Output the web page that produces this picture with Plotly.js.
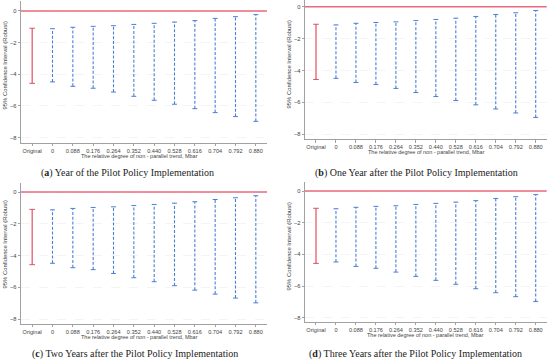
<!DOCTYPE html>
<html>
<head>
<meta charset="utf-8">
<script src="https://cdn.plot.ly/plotly-3.0.1.min.js"></script>
<style>html,body{margin:0;padding:0;background:#fff;}#chart{width:550px;height:363px;}</style>
</head>
<body>
<div id="chart"></div>
<script>
// ---- data ----
const categories = ['Original','0','0.088','0.176','0.264','0.352','0.440','0.528','0.616','0.704','0.792','0.880'];
const upperA = [-1.09,-1.12,-1.03,-0.97,-0.93,-0.85,-0.78,-0.70,-0.61,-0.47,-0.36,-0.23];
const lowerA = [-4.57,-4.48,-4.76,-4.88,-5.12,-5.39,-5.64,-5.89,-6.17,-6.42,-6.67,-6.97];
const upperB = [-1.10,-1.14,-1.04,-0.99,-0.95,-0.87,-0.80,-0.72,-0.61,-0.49,-0.38,-0.24];
const lowerB = [-4.56,-4.49,-4.75,-4.87,-5.12,-5.38,-5.63,-5.88,-6.15,-6.41,-6.66,-6.94];
const upperC = [-1.09,-1.12,-1.03,-0.97,-0.93,-0.85,-0.78,-0.70,-0.61,-0.47,-0.36,-0.23];
const lowerC = [-4.57,-4.48,-4.76,-4.88,-5.12,-5.39,-5.64,-5.89,-6.17,-6.42,-6.67,-6.97];
const upperD = [-1.09,-1.12,-1.03,-0.97,-0.93,-0.85,-0.78,-0.70,-0.61,-0.47,-0.36,-0.23];
const lowerD = [-4.57,-4.48,-4.76,-4.88,-5.12,-5.39,-5.64,-5.89,-6.17,-6.42,-6.67,-6.97];
const yTicks = [0,-2,-4,-6,-8];
const captions = [
  '(<b>a</b>) Year of the Pilot Policy Implementation',
  '(<b>b</b>) One Year after the Pilot Policy Implementation',
  '(<b>c</b>) Two Years after the Pilot Policy Implementation',
  '(<b>d</b>) Three Years after the Pilot Policy Implementation'
];
const xTitle = 'The relative degree of non - parallel trend, Mbar';
const yTitle = '95% Confidence Interval (Robust)';

// ---- layout geometry (pixels) ----
const W = 550, H = 363;
const panels = [
  {up: upperA, lo: lowerA, x0: 21, x1: 267, top: 1, bot: 142.7, yr: [-8.32, 0.63],
   xt: [139, 155.7], yt: [4.5, 66], cap: [127, 173]},
  {up: upperB, lo: lowerB, x0: 305, x1: 546.7, top: 0, bot: 139.3, yr: [-8.31, 0.42],
   xt: [426.5, 151.7], yt: [288.5, 65], cap: [416, 173]},
  {up: upperC, lo: lowerC, x0: 21, x1: 267, top: 182.5, bot: 324, yr: [-8.3, 0.6],
   xt: [139, 336.7], yt: [4.5, 245], cap: [135, 354]},
  {up: upperD, lo: lowerD, x0: 305, x1: 546.7, top: 181.5, bot: 322, yr: [-8.27, 0.6],
   xt: [425, 335], yt: [288.5, 247], cap: [415, 354]}
];

const RED = '#e0505f';
const ZERO = '#ea6a7c';
const BLUE = '#4a7ed6';
const AX = '#8a8a8a';
const TXT = '#444';

const traces = [];
const layout = {
  width: W, height: H, margin: {l:0, r:0, t:0, b:0},
  paper_bgcolor: '#fff', plot_bgcolor: '#fff', showlegend: false,
  font: {family: 'Liberation Sans, Arial, sans-serif', size: 5.6, color: TXT},
  shapes: [], annotations: []
};

panels.forEach((p, k) => {
  const n = k + 1;
  const xa = n === 1 ? 'x' : 'x' + n;
  const ya = n === 1 ? 'y' : 'y' + n;
  const xk = n === 1 ? 'xaxis' : 'xaxis' + n;
  const yk = n === 1 ? 'yaxis' : 'yaxis' + n;

  layout[xk] = {
    domain: [p.x0 / W, p.x1 / W], anchor: ya, type: 'category',
    categoryorder: 'array', categoryarray: categories,
    range: [-0.55, categories.length - 0.45],
    showline: true, linecolor: AX, linewidth: 0.8, mirror: false,
    ticks: 'outside', ticklen: 2.5, tickcolor: AX, tickwidth: 0.8,
    showgrid: false, zeroline: false, fixedrange: true,
    tickfont: {size: 5.6, color: TXT}
  };
  layout[yk] = {
    domain: [1 - p.bot / H, 1 - p.top / H], anchor: xa, range: p.yr,
    tickvals: yTicks, ticktext: yTicks.map(v => v === 0 ? '0' : '\u2212' + Math.abs(v)),
    showline: true, linecolor: AX, linewidth: 0.8,
    ticks: 'outside', ticklen: 2.5, tickcolor: AX, tickwidth: 0.8,
    showgrid: true, gridcolor: '#ececec', griddash: 'dash', gridwidth: 0.6,
    zeroline: false, fixedrange: true,
    tickfont: {size: 5.8, color: TXT}
  };

  // zero reference line
  layout.shapes.push({type: 'line', xref: xa + ' domain', yref: ya, x0: 0, x1: 1, y0: 0, y1: 0,
    line: {color: ZERO, width: 1.4}});

  // original interval (red, solid)
  traces.push({type: 'scatter', mode: 'lines+markers', xaxis: xa, yaxis: ya,
    x: [categories[0], categories[0]], y: [p.lo[0], p.up[0]],
    line: {color: RED, width: 1.2},
    marker: {symbol: 'line-ew-open', size: 4, line: {color: RED, width: 1}},
    hoverinfo: 'skip'});

  // sensitivity intervals (blue, dashed)
  const bx = [], by = [];
  for (let i = 1; i < categories.length; i++) {
    bx.push(categories[i], categories[i], null);
    by.push(p.lo[i], p.up[i], null);
  }
  traces.push({type: 'scatter', mode: 'lines+markers', xaxis: xa, yaxis: ya,
    x: bx, y: by, connectgaps: false,
    line: {color: BLUE, width: 1.1, dash: '3px,1.8px'},
    marker: {symbol: 'line-ew-open', size: 3.5, line: {color: BLUE, width: 1}},
    hoverinfo: 'skip'});

  // titles and caption
  layout.annotations.push({text: xTitle, xref: 'paper', yref: 'paper',
    x: p.xt[0] / W, y: 1 - p.xt[1] / H, xanchor: 'center', yanchor: 'middle',
    showarrow: false, font: {size: 5.5, color: TXT}});
  layout.annotations.push({text: yTitle, xref: 'paper', yref: 'paper', textangle: -90,
    x: p.yt[0] / W, y: 1 - p.yt[1] / H, xanchor: 'center', yanchor: 'middle',
    showarrow: false, font: {size: 5.9, color: TXT}});
  layout.annotations.push({text: captions[k], xref: 'paper', yref: 'paper',
    x: p.cap[0] / W, y: 1 - p.cap[1] / H, xanchor: 'center', yanchor: 'middle',
    showarrow: false, font: {family: 'Liberation Serif, Times New Roman, serif', size: 10, color: '#222'}});
});

Plotly.newPlot('chart', traces, layout, {staticPlot: true, displayModeBar: false});
</script>
</body>
</html>
